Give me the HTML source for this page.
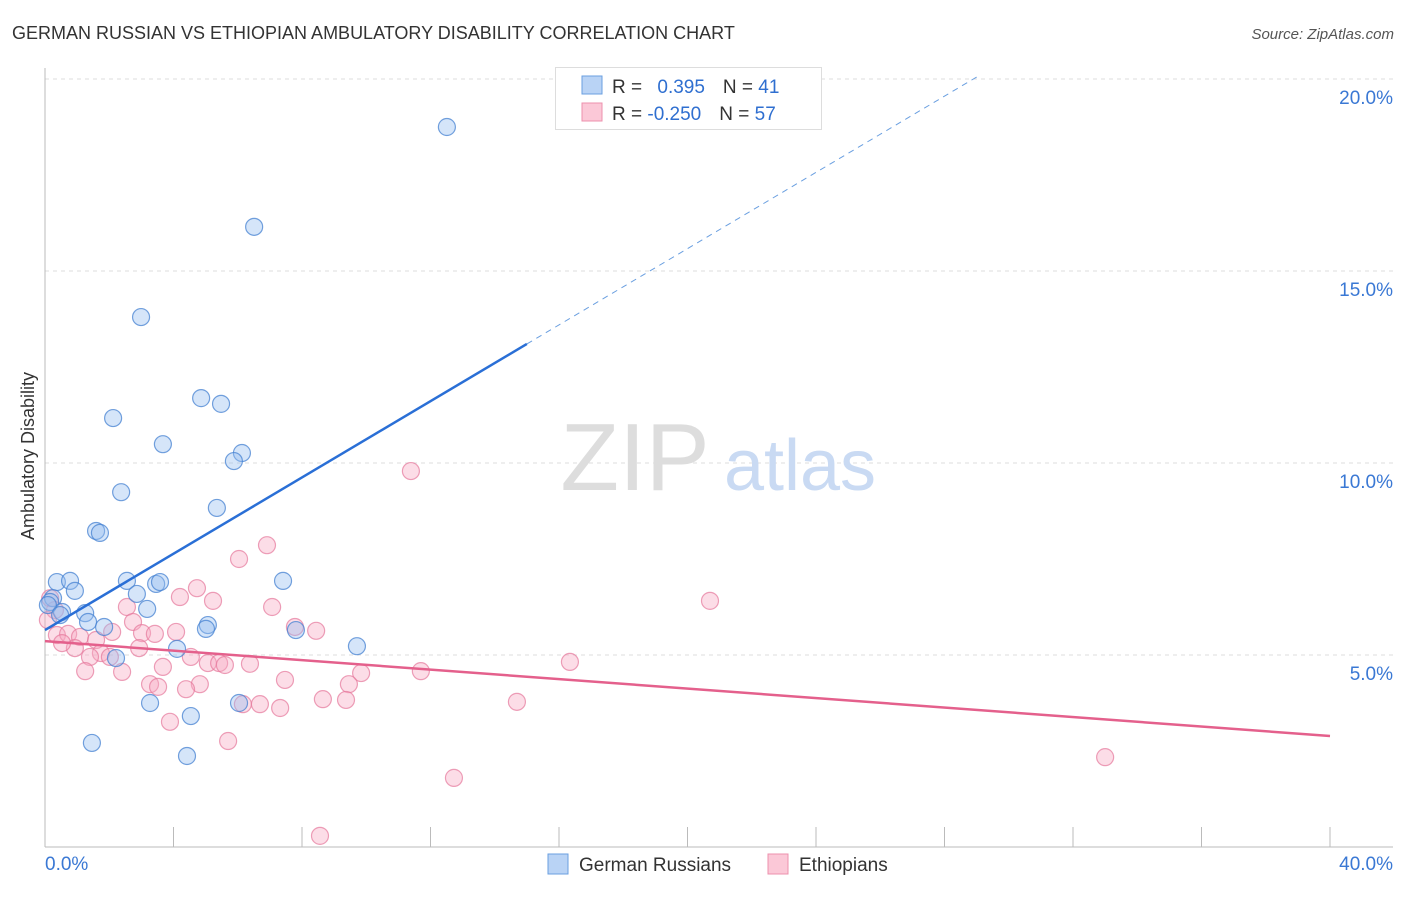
<!DOCTYPE html>
<html><head><meta charset="utf-8"><style>
body{margin:0;background:#fff;font-family:"Liberation Sans",sans-serif;}
svg text{font-family:"Liberation Sans",sans-serif;}
</style></head><body>
<svg id="chart" width="1406" height="892" xmlns="http://www.w3.org/2000/svg">
<text x="12" y="39" font-size="18" fill="#333">GERMAN RUSSIAN VS ETHIOPIAN AMBULATORY DISABILITY CORRELATION CHART</text>
<text x="1394" y="39" font-size="15" fill="#555" font-style="italic" text-anchor="end">Source: ZipAtlas.com</text>
<g id="grid"></g>
<g><text x="635" y="490" font-size="96" fill="#ddd" font-family="Liberation Serif" text-anchor="middle">ZIP</text><text x="800" y="490" font-size="72" fill="#c9daf3" text-anchor="middle">atlas</text></g>
<text x="34" y="456" font-size="18" fill="#333" text-anchor="middle" transform="rotate(-90 34 456)">Ambulatory Disability</text>
<g id="marks"></g>
<g>
<rect x="555.5" y="67.5" width="266" height="62" fill="#fff" stroke="#ddd"/>
<rect x="582" y="76" width="20" height="18" fill="#b9d3f5" stroke="#6a9fe0"/>
<rect x="582" y="103" width="20" height="18" fill="#fbc8d7" stroke="#ec90ad"/>
<text x="612" y="93" font-size="19" fill="#333">R = <tspan fill="#2f6fd0" dx="10">0.395</tspan><tspan dx="18" fill="#333">N = </tspan><tspan fill="#2f6fd0">41</tspan></text>
<text x="612" y="120" font-size="19" fill="#333">R = <tspan fill="#2f6fd0">-0.250</tspan><tspan dx="18" fill="#333">N = </tspan><tspan fill="#2f6fd0">57</tspan></text>
</g>
<g>
<rect x="548" y="854" width="20" height="20" fill="#b9d3f5" stroke="#6a9fe0"/>
<text x="579" y="871" font-size="19" fill="#333">German Russians</text>
<rect x="768" y="854" width="20" height="20" fill="#fbc8d7" stroke="#ec90ad"/>
<text x="799" y="871" font-size="19" fill="#333">Ethiopians</text>
</g>
</svg>
<script>
const xTicks=[0,4,8,12,16,20,24,28,32,36,40];
const yTicks=[5,10,15,20];
const yTickLabels=["5.0%","10.0%","15.0%","20.0%"];
const blueX=[12.51,6.51,2.99,4.86,5.48,2.12,3.67,6.13,5.88,2.37,5.35,1.59,1.71,0.37,0.78,0.93,2.55,3.46,3.58,7.41,2.86,0.25,0.16,0.53,1.25,3.18,1.34,5.07,5.01,7.81,1.84,4.11,9.71,2.21,3.27,4.54,6.04,1.46,4.42,0.09,0.47];
const blueY=[18.75,16.15,13.80,11.69,11.54,11.17,10.49,10.26,10.05,9.24,8.83,8.23,8.18,6.90,6.93,6.67,6.93,6.85,6.90,6.93,6.59,6.48,6.38,6.12,6.09,6.20,5.86,5.78,5.68,5.65,5.73,5.16,5.23,4.92,3.75,3.41,3.75,2.71,2.37,6.30,6.04];
const pinkX=[11.39,6.91,6.04,4.73,20.70,5.23,4.20,2.55,7.07,2.74,7.78,8.44,2.09,3.02,4.08,3.42,0.37,0.72,1.09,1.59,0.93,2.93,0.53,1.74,1.40,2.02,4.54,5.07,5.42,5.60,6.38,3.67,16.34,11.70,1.25,2.40,9.84,7.47,3.27,4.82,9.46,3.52,4.39,8.65,9.37,14.69,6.16,6.69,7.32,3.89,5.70,33.00,12.73,8.56,0.16,0.31,0.09];
const pinkY=[9.79,7.86,7.50,6.74,6.41,6.41,6.51,6.25,6.25,5.86,5.73,5.63,5.60,5.57,5.60,5.55,5.52,5.55,5.47,5.39,5.18,5.18,5.31,5.05,4.95,4.95,4.95,4.79,4.79,4.74,4.77,4.69,4.82,4.58,4.58,4.56,4.53,4.35,4.24,4.24,4.24,4.17,4.11,3.85,3.83,3.78,3.72,3.72,3.62,3.26,2.76,2.34,1.80,0.29,6.48,6.17,5.91];
const blueLine=[0,5.65,15.0,13.10,29.1,20.1];
const pinkLine=[0,5.36,40,2.89];
const NS="http://www.w3.org/2000/svg";
const X=v=>45+v*32.125, Y=v=>847-v*38.4;
function mk(tag,attrs,parent){const e=document.createElementNS(NS,tag);for(const k in attrs)e.setAttribute(k,attrs[k]);(parent||document.getElementById('marks')).appendChild(e);return e;}
const grid=document.getElementById('grid');
yTicks.forEach((t,i)=>{
 const l=mk('line',{x1:45,x2:1393,y1:Y(t),y2:Y(t),stroke:'#ddd','stroke-dasharray':'4,4'},grid);
 
 
 const tx=mk('text',{x:1393,y:Y(t)+25,'font-size':19,fill:'#3a78d4','text-anchor':'end'},grid);
 tx.textContent=yTickLabels[i];
 
 
});
const ax=mk('line',{x1:45,x2:45,y1:68,y2:847,stroke:'#bbb'},grid);


const bx=mk('line',{x1:45,x2:1393,y1:847,y2:847,stroke:'#bbb'},grid);


xTicks.forEach(t=>{const l=mk('line',{x1:X(t),x2:X(t),y1:827,y2:847,stroke:'#bbb'},grid);
 
 });
const xl0=mk('text',{x:45,y:870,'font-size':19,fill:'#3a78d4'},grid);xl0.textContent=xTicks[0].toFixed(1)+'%';


const xl1=mk('text',{x:1393,y:870,'font-size':19,fill:'#3a78d4','text-anchor':'end'},grid);xl1.textContent=xTicks[xTicks.length-1].toFixed(1)+'%';


pinkX.forEach((x,i)=>{const c=mk('circle',{cx:X(x),cy:Y(pinkY[i]),r:8.5,fill:'rgba(248,170,195,0.4)',stroke:'rgba(230,120,155,0.7)','stroke-width':1.2});
 
 });
blueX.forEach((x,i)=>{const c=mk('circle',{cx:X(x),cy:Y(blueY[i]),r:8.5,fill:'rgba(150,190,240,0.4)',stroke:'rgba(70,130,210,0.75)','stroke-width':1.2});
 
 });
const b1=mk('line',{x1:X(blueLine[0]),y1:Y(blueLine[1]),x2:X(blueLine[2]),y2:Y(blueLine[3]),stroke:'#2a6fd6','stroke-width':2.5});


const b2=mk('line',{x1:X(blueLine[2]),y1:Y(blueLine[3]),x2:X(blueLine[4]),y2:Y(blueLine[5]),stroke:'#6a9fe0','stroke-width':1,'stroke-dasharray':'6,5'});


const p1=mk('line',{x1:X(pinkLine[0]),y1:Y(pinkLine[1]),x2:X(pinkLine[2]),y2:Y(pinkLine[3]),stroke:'#e4608c','stroke-width':2.5});


</script>
</body></html>
